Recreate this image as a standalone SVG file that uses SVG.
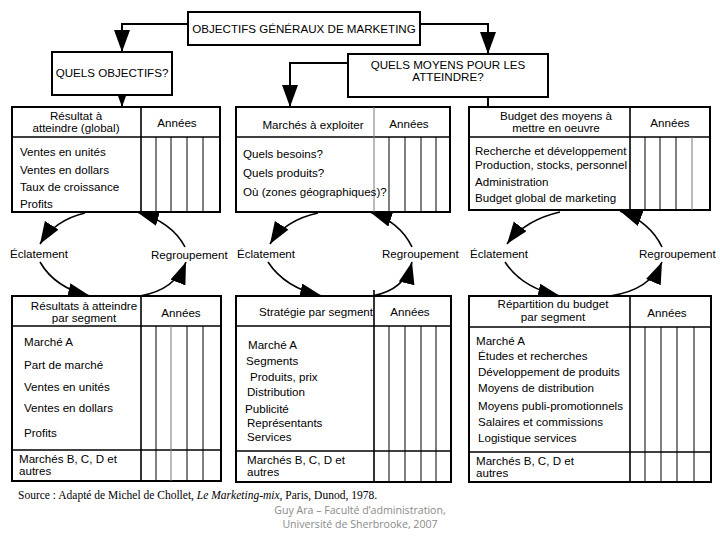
<svg xmlns="http://www.w3.org/2000/svg" width="720" height="540" viewBox="0 0 720 540">
<style>
  .t { font-family: "Liberation Sans", Arial, sans-serif; font-size: 11.6px; fill: #000; }
  .c { text-anchor: middle; }
  .cap { font-family: "Liberation Sans", Arial, sans-serif; font-size: 11.6px; fill: #000; text-anchor: middle; }
  .box { fill: #fff; stroke: #000; stroke-width: 2; }
  .ln { stroke: #000; stroke-width: 1.6; fill: none; }
  .thin { stroke: #000; stroke-width: 1; fill: none; }
  .grey { stroke: #777; stroke-width: 1; fill: none; }
  .conn { stroke: #000; stroke-width: 2; fill: none; }
  .arc { stroke: #000; stroke-width: 1.6; fill: none; marker-end: url(#ah); }
  .src { font-family: "Liberation Serif", "Times New Roman", serif; font-size: 11.5px; fill: #000; }
  .wm { font-family: "Open Sans", "Noto Sans", sans-serif; font-size: 10.6px; fill: #8a8a8a; text-anchor: middle; }
</style>
<defs>
  <marker id="ah" markerUnits="userSpaceOnUse" markerWidth="24" markerHeight="18" refX="22" refY="8" orient="auto">
    <path d="M0,0 L22,8 L0,16 Z" fill="#000"/>
  </marker>
  <marker id="ahd" markerUnits="userSpaceOnUse" markerWidth="24" markerHeight="18" refX="22" refY="8" orient="auto">
    <path d="M0,0 L22,8 L0,16 Z" fill="#000"/>
  </marker>
</defs>
<rect width="720" height="540" fill="#fff"/>

<g id="connectors">
  <path class="conn" d="M188,24 H122 V52" marker-end="url(#ahd)"/>
  <path class="conn" d="M420,24 H488 V54" marker-end="url(#ahd)"/>
  <path class="conn" d="M122,95 V107" marker-end="url(#ahd)"/>
  <path class="conn" d="M348,63 H290 V107" marker-end="url(#ahd)"/>
  <path class="conn" d="M488,97 V107"/>
  <!-- group 1 -->
  <path class="arc" d="M85,213 Q55,220 40,244"/>
  <path class="arc" d="M40,262 Q55,288 90,296"/>
  <path class="arc" d="M140,296 Q175,290 186,262"/>
  <path class="arc" d="M185,247 Q172,222 137,212"/>
  <!-- group 2 -->
  <path class="arc" d="M318,213 Q285,220 270,244"/>
  <path class="arc" d="M268,262 Q285,288 322,296"/>
  <path class="arc" d="M372,296 Q405,290 412,262"/>
  <path class="arc" d="M412,247 Q400,222 370,212"/>
  <!-- group 3 -->
  <path class="arc" d="M560,212 Q525,220 507,244"/>
  <path class="arc" d="M505,262 Q522,288 560,296"/>
  <path class="arc" d="M610,296 Q650,290 662,262"/>
  <path class="arc" d="M662,247 Q650,222 620,211"/>
</g>

<g id="labels">
  <text class="t" x="10" y="258">Éclatement</text>
  <text class="t" x="151" y="259">Regroupement</text>
  <text class="t" x="237" y="258">Éclatement</text>
  <text class="t" x="382" y="258">Regroupement</text>
  <text class="t" x="470" y="258">Éclatement</text>
  <text class="t" x="639" y="258">Regroupement</text>
</g>

<g id="objectifs-generaux">
  <rect class="box" x="188" y="12" width="232" height="33"/>
  <text class="cap" x="304" y="33">OBJECTIFS GÉNÉRAUX DE MARKETING</text>
</g>

<g id="quels-objectifs">
  <rect class="box" x="52" y="52" width="120" height="43"/>
  <text class="cap" x="112" y="77">QUELS OBJECTIFS?</text>
</g>

<g id="quels-moyens">
  <rect class="box" x="348" y="54" width="200" height="43"/>
  <text class="cap" x="448" y="69">QUELS MOYENS POUR LES</text>
  <text class="cap" x="448" y="81">ATTEINDRE?</text>
</g>

<g id="resultat-global">
  <rect class="box" x="12" y="107" width="208" height="105"/>
  <line class="ln" x1="12" y1="137" x2="220" y2="137"/>
  <line class="ln" x1="141" y1="107" x2="141" y2="212"/>
  <line class="thin" x1="156" y1="137" x2="156" y2="212"/>
  <line class="thin" x1="171" y1="137" x2="171" y2="212"/>
  <line class="thin" x1="187" y1="137" x2="187" y2="212"/>
  <line class="thin" x1="203" y1="137" x2="203" y2="212"/>
  <text class="t c" x="76" y="120">Résultat à</text>
  <text class="t c" x="76" y="132">atteindre (global)</text>
  <text class="t c" x="177" y="127">Années</text>
  <text class="t" x="20" y="156">Ventes en unités</text>
  <text class="t" x="20" y="174">Ventes en dollars</text>
  <text class="t" x="20" y="191">Taux de croissance</text>
  <text class="t" x="20" y="208">Profits</text>
</g>

<g id="marches-exploiter">
  <rect class="box" x="236" y="107" width="214" height="105"/>
  <line class="ln" x1="236" y1="137" x2="450" y2="137"/>
  <line class="grey" x1="374" y1="107" x2="374" y2="212"/>
  <line class="thin" x1="389" y1="137" x2="389" y2="212"/>
  <line class="thin" x1="405" y1="137" x2="405" y2="212"/>
  <line class="thin" x1="421" y1="137" x2="421" y2="212"/>
  <line class="thin" x1="436" y1="137" x2="436" y2="212"/>
  <text class="t c" x="313" y="129">Marchés à exploiter</text>
  <text class="t c" x="409" y="128">Années</text>
  <text class="t" x="243" y="158">Quels besoins?</text>
  <text class="t" x="243" y="177">Quels produits?</text>
  <text class="t" x="243" y="196">Où (zones géographiques)?</text>
</g>

<g id="budget-moyens">
  <rect class="box" x="469" y="107" width="241" height="103"/>
  <line class="ln" x1="469" y1="137" x2="710" y2="137"/>
  <line class="ln" x1="630" y1="107" x2="630" y2="210"/>
  <line class="thin" x1="645" y1="137" x2="645" y2="210"/>
  <line class="thin" x1="660" y1="137" x2="660" y2="210"/>
  <line class="thin" x1="676" y1="137" x2="676" y2="210"/>
  <line class="grey" x1="692" y1="137" x2="692" y2="210"/>
  <text class="t c" x="556" y="120">Budget des moyens à</text>
  <text class="t c" x="556" y="132">mettre en oeuvre</text>
  <text class="t c" x="670" y="127">Années</text>
  <text class="t" x="475" y="155">Recherche et développement</text>
  <text class="t" x="475" y="169">Production, stocks, personnel</text>
  <text class="t" x="475" y="186">Administration</text>
  <text class="t" x="475" y="202">Budget global de marketing</text>
</g>

<g id="resultats-segment">
  <rect class="box" x="12" y="296" width="209" height="185"/>
  <line class="ln" x1="12" y1="326" x2="221" y2="326"/>
  <line class="ln" x1="12" y1="450" x2="221" y2="450"/>
  <line class="ln" x1="141" y1="296" x2="141" y2="481"/>
  <line class="thin" x1="156" y1="326" x2="156" y2="481"/>
  <line class="grey" x1="171" y1="326" x2="171" y2="481"/>
  <line class="thin" x1="187" y1="326" x2="187" y2="481"/>
  <line class="thin" x1="203" y1="326" x2="203" y2="481"/>
  <text class="t c" x="84" y="310">Résultats à atteindre</text>
  <text class="t c" x="84" y="322">par segment</text>
  <text class="t c" x="181" y="317">Années</text>
  <text class="t" x="24" y="346">Marché A</text>
  <text class="t" x="24" y="369">Part de marché</text>
  <text class="t" x="24" y="391">Ventes en unités</text>
  <text class="t" x="24" y="412">Ventes en dollars</text>
  <text class="t" x="24" y="437">Profits</text>
  <text class="t" x="19" y="463">Marchés B, C, D et</text>
  <text class="t" x="19" y="475">autres</text>
</g>

<g id="strategie-segment">
  <rect class="box" x="236" y="296" width="215" height="186"/>
  <line class="ln" x1="236" y1="326" x2="451" y2="326"/>
  <line class="ln" x1="236" y1="451" x2="451" y2="451"/>
  <line class="ln" x1="374" y1="290" x2="374" y2="482"/>
  <line class="thin" x1="389" y1="326" x2="389" y2="482"/>
  <line class="thin" x1="405" y1="326" x2="405" y2="482"/>
  <line class="thin" x1="421" y1="326" x2="421" y2="482"/>
  <line class="thin" x1="436" y1="326" x2="436" y2="482"/>
  <text class="t c" x="316" y="316">Stratégie par segment</text>
  <text class="t c" x="410" y="316">Années</text>
  <text class="t" x="248" y="349">Marché A</text>
  <text class="t" x="246" y="365">Segments</text>
  <text class="t" x="250" y="381">Produits, prix</text>
  <text class="t" x="247" y="396">Distribution</text>
  <text class="t" x="245" y="413">Publicité</text>
  <text class="t" x="247" y="427">Représentants</text>
  <text class="t" x="247" y="441">Services</text>
  <text class="t" x="247" y="464">Marchés B, C, D et</text>
  <text class="t" x="247" y="476">autres</text>
</g>

<g id="repartition-budget">
  <rect class="box" x="469" y="296" width="242" height="186"/>
  <line class="ln" x1="469" y1="327" x2="711" y2="327"/>
  <line class="ln" x1="469" y1="452" x2="711" y2="452"/>
  <line class="ln" x1="630" y1="296" x2="630" y2="482"/>
  <line class="thin" x1="645" y1="327" x2="645" y2="482"/>
  <line class="thin" x1="661" y1="327" x2="661" y2="482"/>
  <line class="thin" x1="677" y1="327" x2="677" y2="482"/>
  <line class="thin" x1="694" y1="327" x2="694" y2="482"/>
  <text class="t c" x="553" y="308">Répartition du budget</text>
  <text class="t c" x="553" y="321">par segment</text>
  <text class="t c" x="667" y="317">Années</text>
  <text class="t" x="476" y="345">Marché A</text>
  <text class="t" x="478" y="360">Études et recherches</text>
  <text class="t" x="478" y="376">Développement de produits</text>
  <text class="t" x="478" y="392">Moyens de distribution</text>
  <text class="t" x="478" y="410">Moyens publi-promotionnels</text>
  <text class="t" x="478" y="426">Salaires et commissions</text>
  <text class="t" x="478" y="442">Logistique services</text>
  <text class="t" x="476" y="465">Marchés B, C, D et</text>
  <text class="t" x="476" y="477">autres</text>
</g>

<g id="source">
  <text class="src" x="18" y="499">Source : Adapté de Michel de Chollet, <tspan font-style="italic">Le Marketing-mix</tspan>, Paris, Dunod, 1978.</text>
  <text class="wm" x="360" y="514">Guy Ara – Faculté d’administration,</text>
  <text class="wm" x="360" y="528">Université de Sherbrooke, 2007</text>
</g>
</svg>
